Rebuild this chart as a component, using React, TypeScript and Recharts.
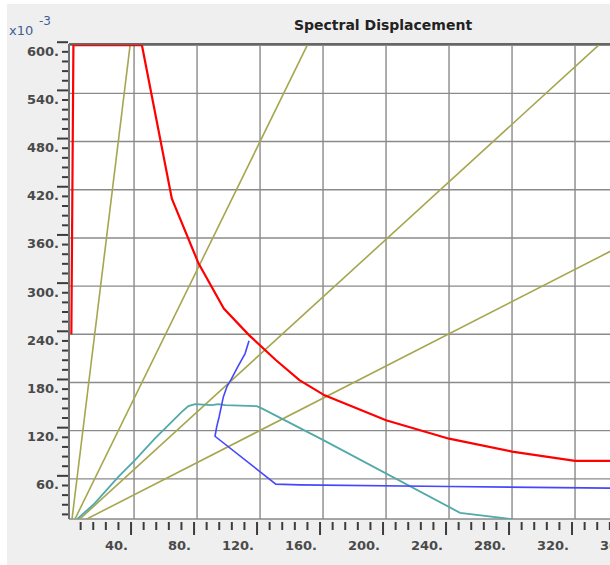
import React from 'react';
import { LineChart, Line, XAxis, YAxis, CartesianGrid, ReferenceLine } from 'recharts';

type Pt = { x: number; y: number };

// Spectral displacement (x) vs spectral acceleration x10^-3 (y)
const demandCurve: Pt[] = [
  { x: 0.2, y: 240 }, { x: 1.5, y: 600 }, { x: 45, y: 600 }, { x: 64, y: 409 },
  { x: 81, y: 328 }, { x: 97, y: 272 }, { x: 113, y: 239 }, { x: 130, y: 208 },
  { x: 145, y: 183 }, { x: 161, y: 164 }, { x: 200, y: 133 }, { x: 240, y: 110 },
  { x: 280, y: 94 }, { x: 320, y: 82.5 }, { x: 380, y: 82.5 },
];

const capacityCurve: Pt[] = [
  { x: 113, y: 232 }, { x: 110.5, y: 216 }, { x: 106, y: 200 }, { x: 102, y: 185 },
  { x: 99, y: 175 }, { x: 96.7, y: 162 }, { x: 95.4, y: 150 }, { x: 94, y: 137 },
  { x: 92.5, y: 125 }, { x: 91.4, y: 113 }, { x: 130, y: 53.4 }, { x: 145, y: 52.5 },
  { x: 240, y: 50.5 }, { x: 342, y: 48.4 }, { x: 380, y: 47.8 },
];

const tealCurve: Pt[] = [
  { x: 4, y: 10 }, { x: 15, y: 29.4 }, { x: 30, y: 62.5 }, { x: 40.6, y: 83.3 },
  { x: 53.3, y: 110.3 }, { x: 63.9, y: 131 }, { x: 70.3, y: 143.4 }, { x: 74.5, y: 150.5 },
  { x: 78.7, y: 153 }, { x: 89.3, y: 151.8 }, { x: 93.5, y: 153 }, { x: 97.8, y: 151.8 },
  { x: 117.9, y: 150.5 }, { x: 121.1, y: 147.7 }, { x: 160.2, y: 108.2 },
  { x: 247, y: 17.7 }, { x: 280.2, y: 9.8 },
];

// radial period lines through the origin
const periodLines: Pt[][] = [
  [{ x: 0, y: 0 }, { x: 37.5, y: 600 }],
  [{ x: 0, y: 0 }, { x: 150, y: 600 }],
  [{ x: 0, y: 0 }, { x: 335, y: 600 }],
  [{ x: 0, y: 0 }, { x: 380, y: 381 }],
];

const xMajor = [40, 80, 120, 160, 200, 240, 280, 320, 360];
const yMajor = [60, 120, 180, 240, 300, 360, 420, 480, 540, 600];
const xMinorStep = 8;
const yMinorStep = 12;

const xTicks = Array.from({ length: 47 }, (_, i) => (i + 1) * xMinorStep);
const yTicks = Array.from({ length: 50 }, (_, i) => (i + 1) * yMinorStep);

const X_DOMAIN: [number, number] = [-1.3, 380.3];
const Y_DOMAIN: [number, number] = [10, 601.5];

const FONT = '"DejaVu Sans", sans-serif';

const renderXTick = (props: any) => {
  const { x, y, payload } = props;
  const v = payload.value;
  const major = v % 40 === 0;
  return (
    <g>
      <line x1={x - 3} x2={x - 3} y1={y + 3} y2={y + (major ? 16 : 11)} stroke="#3c3c3c" strokeWidth={2} />
      {major && (
        <text x={x - 6} y={y + 26} textAnchor="end" dominantBaseline="central"
          fontFamily={FONT} fontSize={13} fontWeight="bold" fill="#4a4a4a">
          {`${v}.`}
        </text>
      )}
    </g>
  );
};

const renderYTick = (props: any) => {
  const { x, y, payload } = props;
  const v = payload.value;
  const major = v % 60 === 0;
  return (
    <g>
      <line x1={x - (major ? 12 : 7)} x2={x - 1} y1={y - 3} y2={y - 3} stroke="#3c3c3c" strokeWidth={2} />
      {major && (
        <text x={x - 10} y={y + 6} textAnchor="end" dominantBaseline="central"
          fontFamily={FONT} fontSize={13} fontWeight="bold" fill="#4a4a4a">
          {`${v}.`}
        </text>
      )}
    </g>
  );
};

export default function App() {
  return (
    <div style={{ position: 'absolute', left: 0, top: 0, width: 610, height: 565, overflow: 'hidden', background: '#fff' }}>
      <div style={{ position: 'absolute', left: 7, top: 4, right: 0, bottom: 0, background: '#efefef' }} />
      <div style={{ position: 'absolute', left: 0, top: 0 }}>
        <LineChart width={690} height={565} margin={{ top: 44, right: 20, bottom: 0, left: 0 }}>
          <XAxis xAxisId="grid" type="number" dataKey="x" domain={X_DOMAIN} allowDataOverflow ticks={xMajor} interval={0} hide />
          <YAxis yAxisId="grid" type="number" dataKey="y" domain={Y_DOMAIN} allowDataOverflow ticks={yMajor} interval={0} hide />
          <CartesianGrid xAxisId="grid" yAxisId="grid" fill="#ffffff" stroke="#8a8a8a" strokeWidth={1.4} />
          <XAxis
            type="number" dataKey="x" domain={X_DOMAIN} allowDataOverflow
            ticks={xTicks} interval={0} height={46}
            tickSize={0} tickMargin={0} axisLine={false} tickLine={false}
            tick={renderXTick}
          />
          <YAxis
            type="number" dataKey="y" domain={Y_DOMAIN} allowDataOverflow
            ticks={yTicks} interval={0} width={69}
            tickSize={0} tickMargin={0} tickLine={false}
            axisLine={{ stroke: '#707070', strokeWidth: 2 }}
            tick={renderYTick}
          />
          {periodLines.map((pts, i) => (
            <Line key={`period-${i}`} data={pts} dataKey="y" type="linear" stroke="#a6a650"
              strokeWidth={1.6} dot={false} activeDot={false} isAnimationActive={false} />
          ))}
          <Line data={tealCurve} dataKey="y" type="linear" stroke="#52a9a9" strokeWidth={1.8}
            dot={false} activeDot={false} isAnimationActive={false} />
          <Line data={capacityCurve} dataKey="y" type="linear" stroke="#4646ff" strokeWidth={1.6}
            dot={false} activeDot={false} isAnimationActive={false} />
          <Line data={demandCurve} dataKey="y" type="linear" stroke="#ff0000" strokeWidth={2.2}
            dot={false} activeDot={false} isAnimationActive={false} />
          <ReferenceLine y={601.5} stroke="#666666" strokeWidth={2} />
        </LineChart>
      </div>
      <div style={{ position: 'absolute', left: 283, top: 16, width: 200, textAlign: 'center', fontFamily: FONT, fontSize: 14, lineHeight: '18px', fontWeight: 'bold', color: '#222' }}>
        Spectral Displacement
      </div>
      <div style={{ position: 'absolute', left: 9, top: 24, fontFamily: FONT, fontSize: 13, lineHeight: '14px', color: '#3f6191' }}>x10</div>
      <div style={{ position: 'absolute', left: 39, top: 14, fontFamily: FONT, fontSize: 12, lineHeight: '14px', color: '#3f6191' }}>-3</div>
    </div>
  );
}
